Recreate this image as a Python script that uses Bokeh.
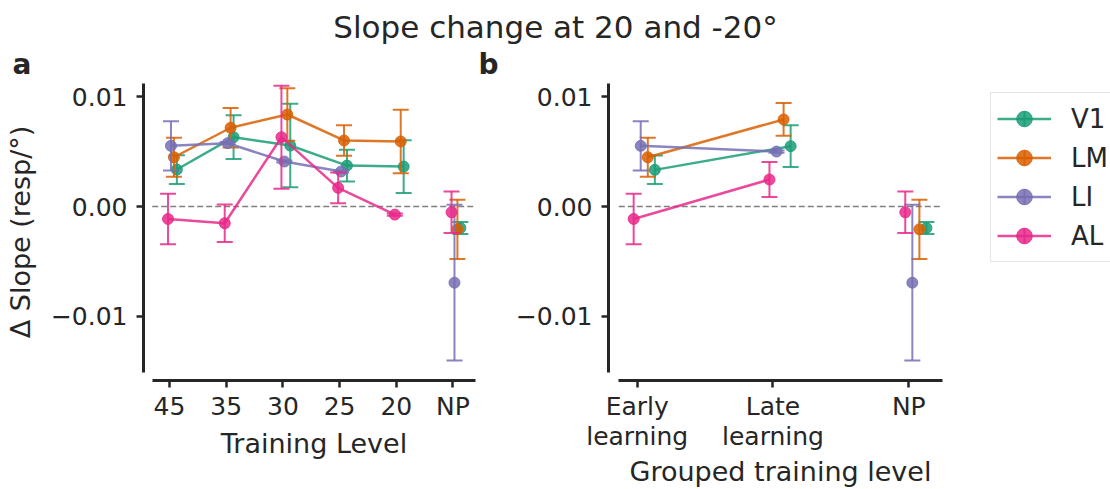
import numpy as np
from bokeh.plotting import figure
from bokeh.models import (Range1d, FixedTicker, Legend, LegendItem,
                          CustomJSTickFormatter, Label)
from bokeh.layouts import column, row
from bokeh.embed import file_html
from bokeh.resources import INLINE

nan = float("nan")

# ---------------- data ----------------
areas = ["V1", "LM", "LI", "AL"]

levels = ["45", "35", "30", "25", "20", "NP"]
lvl_V1 = [0.00338, 0.00633, 0.00557, 0.00374, 0.00365, -0.00195]
lvl_V1_err = [0.00131, 0.0020, 0.0038, 0.00145, 0.0024, 0.00055]
lvl_LM = [0.0045, 0.00719, 0.0084, 0.00603, 0.00594, -0.00207]
lvl_LM_err = [0.00177, 0.0018, 0.0024, 0.0014, 0.0029, 0.0027]
lvl_LI = [0.00554, 0.00578, 0.00411, 0.0032, nan, -0.00694]
lvl_LI_err = [0.00225, 0.0001, 0.0001, 0.0001, nan, 0.0071]
lvl_AL = [-0.00113, -0.00152, 0.00633, 0.00171, -0.00073, -0.00052]
lvl_AL_err = [0.0023, 0.0017, 0.0047, 0.0014, 0.0001, 0.0019]

groups = ["Early\nlearning", "Late\nlearning", "NP"]
grp_V1 = [0.00335, 0.00551, -0.00195]
grp_V1_err = [0.0013, 0.0019, 0.00055]
grp_LM = [0.0045, 0.00795, -0.00207]
grp_LM_err = [0.00177, 0.0015, 0.0027]
grp_LI = [0.00554, 0.00502, -0.00694]
grp_LI_err = [0.00225, 0.0001, 0.0071]
grp_AL = [-0.00113, 0.00247, -0.00052]
grp_AL_err = [0.0023, 0.0016, 0.0019]

level_data = {"V1": (lvl_V1, lvl_V1_err), "LM": (lvl_LM, lvl_LM_err),
              "LI": (lvl_LI, lvl_LI_err), "AL": (lvl_AL, lvl_AL_err)}
group_data = {"V1": (grp_V1, grp_V1_err), "LM": (grp_LM, grp_LM_err),
              "LI": (grp_LI, grp_LI_err), "AL": (grp_AL, grp_AL_err)}

# ---------------- style ----------------
colors = {"V1": "#1b9e77", "LM": "#d95f02", "LI": "#7570b3", "AL": "#e7298a"}
dodge = {"V1": 0.13, "LM": 0.078, "LI": 0.026, "AL": -0.026}
ALPHA = 0.85
FONT = "DejaVu Sans"
INK = "#262626"
LINE_W = 2.5
ERR_W = 2.0
MARK = 11

TOP_H = 83                 # title strip height (frames start just below)
PANEL_H = 489 - TOP_H
FRAME_BOTTOM = 381         # window y of the x spines
FRAME_H = FRAME_BOTTOM - TOP_H
ZERO_Y = 206.5             # window y of value 0
PX_PER_UNIT = 11000.0
Y_END = (ZERO_Y - TOP_H) / PX_PER_UNIT
Y_START = -(FRAME_BOTTOM - ZERO_Y) / PX_PER_UNIT
Y_BOUNDS = (-0.01511, Y_END)
TEXT_SHIFT = 12  # Bokeh places alphabetic baselines ~12px lower here


def style_axes(p, xlabels, xbounds, ylabel):
    p.xaxis.ticker = FixedTicker(ticks=list(range(len(xlabels))))
    p.xaxis.major_label_overrides = {i: lab for i, lab in enumerate(xlabels)}
    p.xaxis.bounds = xbounds
    p.yaxis.ticker = FixedTicker(ticks=[-0.01, 0.0, 0.01])
    p.yaxis.formatter = CustomJSTickFormatter(
        code="return tick.toFixed(2).replace('-', '\u2212');")
    p.yaxis.bounds = Y_BOUNDS
    for ax in (p.xaxis[0], p.yaxis[0]):
        ax.axis_line_width = 3
        ax.axis_line_color = INK
        ax.major_tick_line_width = 2.5
        ax.major_tick_line_color = INK
        ax.major_tick_out = 7
        ax.major_tick_in = 0
        ax.minor_tick_line_color = None
        ax.major_label_text_font = FONT
        ax.major_label_text_font_size = "25px"
        ax.major_label_text_color = INK
        ax.major_label_text_line_height = 1.05
        ax.axis_label_text_font = FONT
        ax.axis_label_text_font_size = "27px"
        ax.axis_label_text_font_style = "normal"
        ax.axis_label_text_color = INK
        ax.axis_label_text_line_height = 1.0
    p.xaxis.major_label_standoff = 4
    p.xaxis.axis_label_standoff = 2
    p.yaxis.major_label_standoff = 9
    p.yaxis.axis_label_standoff = 12
    p.xgrid.visible = False
    p.ygrid.visible = False
    p.outline_line_color = None
    if ylabel:
        p.yaxis.axis_label = ylabel


def draw_panel(p, labels, data, xbounds):
    # zero reference line across the axis extent
    p.line(x=list(xbounds), y=[0, 0], line_color="#808080", line_width=1.5,
           line_dash="6 3")
    n = len(labels)
    for a in areas:
        m, e = data[a]
        m = np.array(m, dtype=float)
        e = np.array(e, dtype=float)
        x = np.arange(n) + dodge[a]
        c = colors[a]
        p.segment(x0=x, y0=m - e, x1=x, y1=m + e, line_color=c,
                  line_width=ERR_W, line_alpha=ALPHA)
        p.scatter(x=x, y=m - e, marker="dash", size=16, line_color=c,
                  line_width=ERR_W, line_alpha=ALPHA)
        p.scatter(x=x, y=m + e, marker="dash", size=16, line_color=c,
                  line_width=ERR_W, line_alpha=ALPHA)
        p.line(x=x[:-1], y=m[:-1], line_color=c, line_width=LINE_W,
               line_alpha=ALPHA)
        p.scatter(x=x, y=m, marker="circle", size=MARK, fill_color=c,
                  line_color=c, fill_alpha=ALPHA, line_alpha=ALPHA)


# ---------------- title strip ----------------
pt_ = figure(width=1110, height=TOP_H, x_range=Range1d(0, 1110),
             y_range=Range1d(TOP_H, 0), x_axis_type=None, y_axis_type=None,
             toolbar_location=None, output_backend="svg", min_border=0,
             title=None)
pt_.outline_line_color = None
pt_.xgrid.visible = False
pt_.ygrid.visible = False
pt_.add_layout(Label(x=555, y=38 - TEXT_SHIFT,
                     text="Slope change at 20 and -20\u00b0",
                     text_font=FONT, text_font_size="31px", text_align="center",
                     text_baseline="alphabetic", text_color=INK))
pt_.add_layout(Label(x=12, y=76 - TEXT_SHIFT, text="a", text_font=FONT,
                     text_font_size="28px", text_font_style="bold",
                     text_baseline="alphabetic", text_color=INK))
pt_.add_layout(Label(x=478, y=76 - TEXT_SHIFT, text="b", text_font=FONT,
                     text_font_size="28px", text_font_style="bold",
                     text_baseline="alphabetic", text_color=INK))

# ---------------- panel a ----------------
XA_BOUNDS = (-0.305, 5.397)
pa = figure(width=484, height=PANEL_H, x_range=Range1d(-0.4586, 5.5556),
            y_range=Range1d(Y_START, Y_END), toolbar_location=None,
            output_backend="svg", min_border_left=143, min_border_right=0,
            min_border_top=0, min_border_bottom=PANEL_H - FRAME_H, title=None)
pa.xaxis.axis_label = "Training Level"
style_axes(pa, levels, XA_BOUNDS, "\u0394 Slope (resp/\u00b0)")
pa.xaxis.axis_label_standoff = 4
draw_panel(pa, levels, level_data, XA_BOUNDS)

# ---------------- panel b ----------------
XB_BOUNDS = (-0.1355, 2.246)
pb = figure(width=468, height=PANEL_H, x_range=Range1d(-0.2113, 2.3218),
            y_range=Range1d(Y_START, Y_END), toolbar_location=None,
            output_backend="svg", min_border_left=124, min_border_right=0,
            min_border_top=0, min_border_bottom=PANEL_H - FRAME_H, title=None)
pb.xaxis.axis_label = "Grouped training level"
style_axes(pb, groups, XB_BOUNDS, None)
draw_panel(pb, groups, group_data, XB_BOUNDS)

# ---------------- legend strip ----------------
# the series are re-drawn here outside the visible range so that the
# legend can show their glyphs
pl = figure(width=1110 - 484 - 468, height=PANEL_H, x_range=Range1d(-20, -19),
            y_range=Range1d(-20, -19), x_axis_type=None, y_axis_type=None,
            toolbar_location=None, output_backend="svg", min_border=0,
            min_border_bottom=PANEL_H - FRAME_H, title=None)
pl.outline_line_color = None
pl.xgrid.visible = False
pl.ygrid.visible = False
items = []
for a in areas:
    c = colors[a]
    m, e = group_data[a]
    xs = list(range(len(m)))
    ln = pl.line(x=xs, y=m, line_color=c, line_width=LINE_W, line_alpha=ALPHA)
    eb = pl.scatter(x=xs, y=m, marker="cross", size=27, line_color=c,
                    line_width=ERR_W, line_alpha=ALPHA)
    pt = pl.scatter(x=xs, y=m, marker="circle", size=MARK, fill_color=c,
                    line_color=c, fill_alpha=ALPHA, line_alpha=ALPHA)
    items.append(LegendItem(label=a, renderers=[ln, eb, pt]))

# legend box: left at window x=990, bottom at window y=263
legend = Legend(items=items, location=(990 - 952, FRAME_BOTTOM - 263))
legend.label_text_font = FONT
legend.label_text_font_size = "26px"
legend.label_text_color = INK
legend.border_line_color = "#cccccc"
legend.border_line_width = 1.2
legend.background_fill_alpha = 0.8
legend.glyph_width = 54
legend.glyph_height = 39
legend.label_height = 39
legend.spacing = 0
legend.padding = 6
legend.margin = 0
legend.label_standoff = 20
pl.add_layout(legend, "center")

layout = column(pt_, row(pa, pb, pl))
open("out.html", "w").write(file_html(layout, INLINE))
